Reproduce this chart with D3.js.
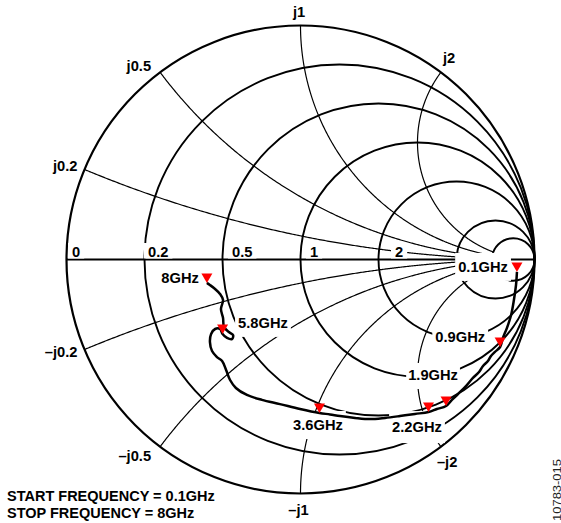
<!DOCTYPE html>
<html>
<head>
<meta charset="utf-8">
<script src="https://cdn.jsdelivr.net/npm/d3@7"></script>
<style>
  body { margin: 0; background: #fff; }
  svg text { font-family: "Liberation Sans", Arial, sans-serif; font-weight: bold; fill: #000; }
</style>
</head>
<body>
<div id="chart"></div>
<script>
'use strict';

// grid of the smith chart (normalised impedance)
const resistances = [0, 0.2, 0.5, 1, 2, 5, 10];
const reactances = [0.2, 0.5, 1, 2, -0.2, -0.5, -1, -2];
const resistanceTicks = [0, 0.2, 0.5, 1, 2];
const resistanceLabels = ['0', '0.2', '0.5', '1', '2'];
const reactanceLabels = ['j0.2', 'j0.5', 'j1', 'j2', '\u2013j0.2', '\u2013j0.5', '\u2013j1', '\u2013j2'];

// measured reflection coefficient, 0.1GHz -> 8GHz (real / imaginary part)
const traceRe = [0.925, 0.921, 0.912, 0.900, 0.882, 0.865, 0.853, 0.831, 0.814, 0.801,
  0.780, 0.763, 0.737, 0.707, 0.673, 0.647, 0.622, 0.583, 0.547, 0.489,
  0.425, 0.361, 0.297, 0.233, 0.169, 0.126, 0.081, -0.002, -0.088, -0.165,
  -0.229, -0.276, -0.301, -0.318, -0.335, -0.357, -0.378, -0.387, -0.382, -0.365,
  -0.344, -0.333, -0.314, -0.293, -0.288, -0.306, -0.327, -0.331, -0.340, -0.331,
  -0.344, -0.365, -0.387, -0.400];
const traceIm = [-0.053, -0.109, -0.173, -0.237, -0.293, -0.335, -0.374, -0.395, -0.412, -0.434,
  -0.455, -0.481, -0.506, -0.541, -0.575, -0.600, -0.626, -0.639, -0.652, -0.660,
  -0.669, -0.677, -0.682, -0.677, -0.669, -0.662, -0.656, -0.639, -0.618, -0.600,
  -0.579, -0.549, -0.515, -0.472, -0.434, -0.417, -0.391, -0.353, -0.318, -0.297,
  -0.297, -0.318, -0.335, -0.340, -0.323, -0.310, -0.288, -0.250, -0.212, -0.173,
  -0.147, -0.126, -0.109, -0.100];

// frequency markers
const markerLabels = ['0.1GHz', '0.9GHz', '1.9GHz', '2.2GHz', '3.6GHz', '5.8GHz', '8GHz'];
const markerRe = [0.925, 0.853, 0.622, 0.547, 0.081, -0.333, -0.400];
const markerIm = [-0.053, -0.374, -0.626, -0.652, -0.656, -0.318, -0.100];

const footerLines = ['START FREQUENCY = 0.1GHz', 'STOP FREQUENCY = 8GHz'];
const figureId = '10783-015';

const width = 561, height = 523;
const cx = 300.5, cy = 259.5, R = 234;

const svg = d3.select('#chart').append('svg')
    .attr('width', width)
    .attr('height', height);

const x = d3.scaleLinear().domain([-1, 1]).range([cx - R, cx + R]);
const y = d3.scaleLinear().domain([-1, 1]).range([cy + R, cy - R]);

// z = r + jx  ->  gamma
function gamma(r, xv) {
  const den = (r + 1) * (r + 1) + xv * xv;
  return [(r * r + xv * xv - 1) / den, (2 * xv) / den];
}

const grid = svg.append('g').attr('fill', 'none').attr('stroke', '#000');

// resistance circles
grid.selectAll('.rcircle')
    .data(resistances)
  .enter().append('circle')
    .attr('class', 'rcircle')
    .attr('cx', r => x(r / (1 + r)))
    .attr('cy', y(0))
    .attr('r', r => x(1 / (1 + r)) - x(0))
    .attr('stroke-width', r => r === 0 ? 2.2 : 1.9);

// reactance arcs, from the rim to the r = 10 circle
const rSteps = d3.range(0, 1.00001, 1 / 400).map(t => 10 * t * t);
const arcLine = d3.line().x(d => x(d[0])).y(d => y(d[1]));

grid.selectAll('.xarc')
    .data(reactances)
  .enter().append('path')
    .attr('class', 'xarc')
    .attr('stroke-width', 1.2)
    .attr('d', xv => arcLine(rSteps.map(r => gamma(r, xv))));

// real axis
grid.append('line')
    .attr('x1', x(-1)).attr('x2', x(1))
    .attr('y1', y(0)).attr('y2', y(0))
    .attr('stroke-width', 1.8);

// label with white box behind it
const labelLayer = svg.append('g');
function boxedLabel(txt, px, py, anchor, pad) {
  const g = labelLayer.append('g');
  const rect = g.append('rect').attr('fill', '#fff');
  const t = g.append('text')
      .attr('x', px).attr('y', py)
      .attr('text-anchor', anchor)
      .style('font-size', '14.7px')
      .text(txt);
  if (pad) {
    const b = t.node().getBBox();
    rect.attr('x', b.x - pad[0]).attr('y', b.y - pad[1])
        .attr('width', b.width + 2 * pad[0])
        .attr('height', b.height + pad[1] + pad[2]);
  }
}

// resistance labels on the real axis
const rLabelDx = [5.5, 3.5, 9.5, 9.5, 16.5];
resistanceTicks.forEach((r, i) => {
  const g = labelLayer.append('g');
  const t = g.append('text')
      .attr('x', x((r - 1) / (r + 1)) + rLabelDx[i])
      .attr('y', y(0) - 2.5)
      .style('font-size', '14.7px')
      .text(resistanceLabels[i]);
  const b = t.node().getBBox();
  g.insert('rect', 'text')
      .attr('x', b.x - 4).attr('y', b.y - 1)
      .attr('width', b.width + 8)
      .attr('height', y(0) - 1 - (b.y - 1))
      .attr('fill', '#fff');
});

// reactance labels round the rim
const xLabelLayout = [
  ['end', -7, 1], ['end', -9, -1], ['middle', -1.5, -8.5], ['start', 2, -9],
  ['end', -7, 7.5], ['end', -9, 14], ['middle', -2, 21.5], ['start', -4, 20]
];
reactances.forEach((xv, i) => {
  const p = gamma(0, xv);
  const [anchor, dx, dy] = xLabelLayout[i];
  boxedLabel(reactanceLabels[i], x(p[0]) + dx, y(p[1]) + dy, anchor, null);
});

// frequency labels
const markerLabelLayout = [
  ['end', -9, 0], ['end', -15, -5], ['middle', -13, -26], ['middle', -11.5, 20],
  ['middle', -1.5, 17], ['start', 15.5, -6], ['end', -8, 0]
];
const markerPads = [
  [3, 6, 6], [3, 6, 6], [2, 4, 6], [3, 8, 8], [3, 6, 6], [3, 6, 6], [3, 6, 6]
];
markerLabels.forEach((lab, i) => {
  const [anchor, dx, dy] = markerLabelLayout[i];
  boxedLabel(lab, x(markerRe[i]) + dx, y(markerIm[i]) + dy, anchor, markerPads[i]);
});

// measured trace
const tracePts = traceRe.map((re, i) => [re, traceIm[i]]);
svg.append('path')
    .datum(tracePts)
    .attr('fill', 'none')
    .attr('stroke', '#000')
    .attr('stroke-width', 2.5)
    .attr('stroke-linejoin', 'round')
    .attr('d', d3.line().x(d => x(d[0])).y(d => y(d[1])).curve(d3.curveCatmullRom.alpha(0.5)));

// red down-pointing markers, tip on the trace
svg.selectAll('.marker')
    .data(markerLabels.map((lab, i) => [markerRe[i], markerIm[i]]))
  .enter().append('path')
    .attr('class', 'marker')
    .attr('fill', '#f00')
    .attr('d', d => {
      const px = x(d[0]), py = y(d[1]);
      return `M${px - 5.5},${py - 9.5}L${px + 5.5},${py - 9.5}L${px},${py}Z`;
    });

// footer
svg.selectAll('.footer')
    .data(footerLines)
  .enter().append('text')
    .attr('class', 'footer')
    .attr('x', 7)
    .attr('y', (d, i) => 501 + i * 17)
    .style('font-size', '14.5px')
    .text(d => d);

svg.append('text')
    .attr('transform', 'translate(560.5,521) rotate(-90)')
    .style('font-size', '11px')
    .style('font-weight', 'normal')
    .style('fill', '#222')
    .attr('textLength', 62)
    .attr('lengthAdjust', 'spacingAndGlyphs')
    .text(figureId);
</script>
</body>
</html>
